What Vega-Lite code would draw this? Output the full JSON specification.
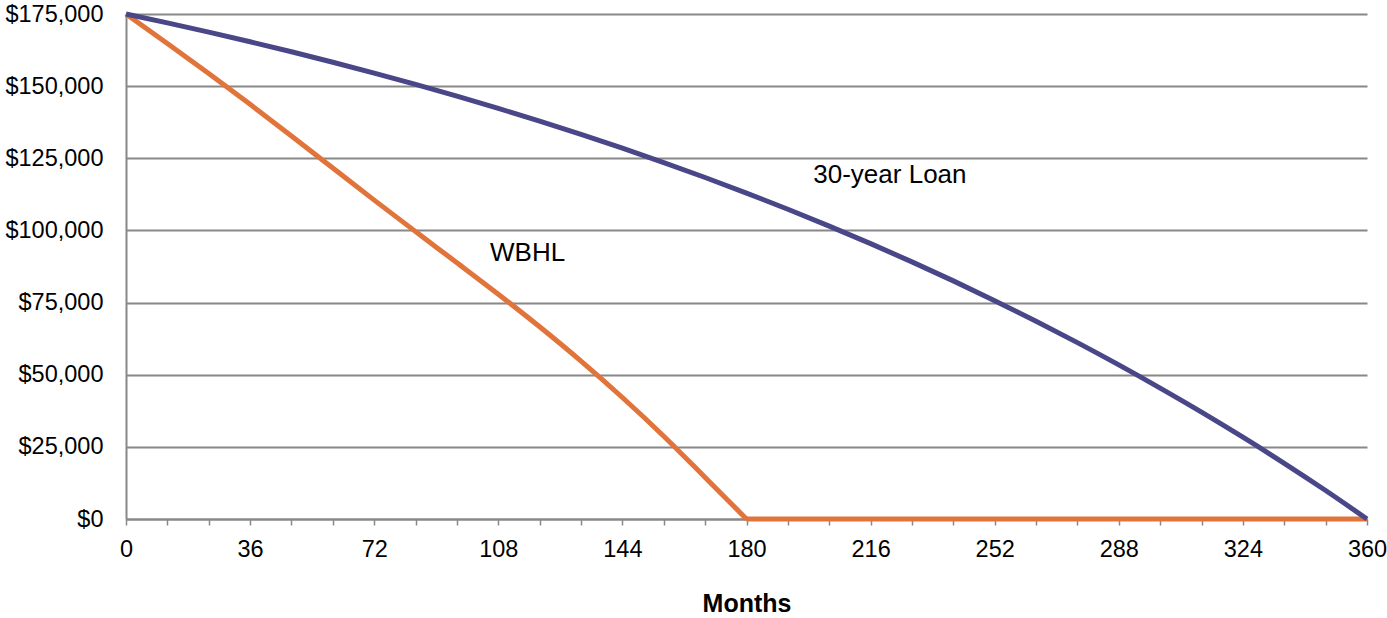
{
  "$schema": "https://vega.github.io/schema/vega-lite/v6.json",
  "autosize": "none",
  "width": 1241,
  "height": 505,
  "padding": {"left": 126, "top": 14, "right": 20, "bottom": 99},
  "background": "white",
  "config": {
    "view": {"stroke": null},
    "font": "Liberation Sans"
  },
  "datasets": {
    "loans": [
      {"month": 0, "balance": 175000, "series": "WBHL", "part": "paying"},
      {"month": 12, "balance": 164800, "series": "WBHL", "part": "paying"},
      {"month": 24, "balance": 154400, "series": "WBHL", "part": "paying"},
      {"month": 36, "balance": 143700, "series": "WBHL", "part": "paying"},
      {"month": 48, "balance": 132700, "series": "WBHL", "part": "paying"},
      {"month": 60, "balance": 121600, "series": "WBHL", "part": "paying"},
      {"month": 72, "balance": 110500, "series": "WBHL", "part": "paying"},
      {"month": 84, "balance": 99600, "series": "WBHL", "part": "paying"},
      {"month": 96, "balance": 88800, "series": "WBHL", "part": "paying"},
      {"month": 108, "balance": 77900, "series": "WBHL", "part": "paying"},
      {"month": 120, "balance": 66600, "series": "WBHL", "part": "paying"},
      {"month": 132, "balance": 54700, "series": "WBHL", "part": "paying"},
      {"month": 144, "balance": 42100, "series": "WBHL", "part": "paying"},
      {"month": 156, "balance": 28700, "series": "WBHL", "part": "paying"},
      {"month": 168, "balance": 14400, "series": "WBHL", "part": "paying"},
      {"month": 180, "balance": 0, "series": "WBHL", "part": "paying"},
      {"month": 180, "balance": 0, "series": "WBHL", "part": "paid"},
      {"month": 360, "balance": 0, "series": "WBHL", "part": "paid"},
      {"month": 0, "balance": 175000, "series": "30-year Loan", "part": "paying"},
      {"month": 12, "balance": 171920, "series": "30-year Loan", "part": "paying"},
      {"month": 24, "balance": 168710, "series": "30-year Loan", "part": "paying"},
      {"month": 36, "balance": 165370, "series": "30-year Loan", "part": "paying"},
      {"month": 48, "balance": 161900, "series": "30-year Loan", "part": "paying"},
      {"month": 60, "balance": 158280, "series": "30-year Loan", "part": "paying"},
      {"month": 72, "balance": 154520, "series": "30-year Loan", "part": "paying"},
      {"month": 84, "balance": 150600, "series": "30-year Loan", "part": "paying"},
      {"month": 96, "balance": 146530, "series": "30-year Loan", "part": "paying"},
      {"month": 108, "balance": 142290, "series": "30-year Loan", "part": "paying"},
      {"month": 120, "balance": 137870, "series": "30-year Loan", "part": "paying"},
      {"month": 132, "balance": 133280, "series": "30-year Loan", "part": "paying"},
      {"month": 144, "balance": 128500, "series": "30-year Loan", "part": "paying"},
      {"month": 156, "balance": 123520, "series": "30-year Loan", "part": "paying"},
      {"month": 168, "balance": 118340, "series": "30-year Loan", "part": "paying"},
      {"month": 180, "balance": 112950, "series": "30-year Loan", "part": "paying"},
      {"month": 192, "balance": 107340, "series": "30-year Loan", "part": "paying"},
      {"month": 204, "balance": 101500, "series": "30-year Loan", "part": "paying"},
      {"month": 216, "balance": 95420, "series": "30-year Loan", "part": "paying"},
      {"month": 228, "balance": 89100, "series": "30-year Loan", "part": "paying"},
      {"month": 240, "balance": 82520, "series": "30-year Loan", "part": "paying"},
      {"month": 252, "balance": 75670, "series": "30-year Loan", "part": "paying"},
      {"month": 264, "balance": 68540, "series": "30-year Loan", "part": "paying"},
      {"month": 276, "balance": 61120, "series": "30-year Loan", "part": "paying"},
      {"month": 288, "balance": 53400, "series": "30-year Loan", "part": "paying"},
      {"month": 300, "balance": 45360, "series": "30-year Loan", "part": "paying"},
      {"month": 312, "balance": 37030, "series": "30-year Loan", "part": "paying"},
      {"month": 324, "balance": 28330, "series": "30-year Loan", "part": "paying"},
      {"month": 336, "balance": 19290, "series": "30-year Loan", "part": "paying"},
      {"month": 348, "balance": 9860, "series": "30-year Loan", "part": "paying"},
      {"month": 360, "balance": 0, "series": "30-year Loan", "part": "paying"}
    ],
    "labels": [
      {"month": 221.6, "balance": 119200, "text": "30-year Loan"},
      {"month": 116.5, "balance": 92200, "text": "WBHL"}
    ]
  },
  "encoding": {
    "x": {
      "field": "month",
      "type": "quantitative",
      "scale": {"domain": [0, 360], "nice": false, "zero": false},
      "axis": {
        "title": "Months",
        "values": [0, 12, 24, 36, 48, 60, 72, 84, 96, 108, 120, 132, 144, 156, 168, 180, 192, 204, 216, 228, 240, 252, 264, 276, 288, 300, 312, 324, 336, 348, 360],
        "labelExpr": "datum.value % 36 == 0 ? datum.label : ''",
        "grid": false,
        "domainColor": "#888888",
        "domainWidth": 2,
        "tickColor": "#888888",
        "tickWidth": 1.5,
        "tickSize": 6,
        "labelFontSize": 23.5,
        "labelColor": "#000000",
        "labelPadding": 12,
        "labelFlush": false,
        "labelOverlap": false,
        "titleFontSize": 25,
        "titleFontWeight": "bold",
        "titleColor": "#000000",
        "titlePadding": 31
      }
    },
    "y": {
      "field": "balance",
      "type": "quantitative",
      "scale": {"domain": [0, 175000], "nice": false},
      "axis": {
        "title": null,
        "values": [0, 25000, 50000, 75000, 100000, 125000, 150000, 175000],
        "format": "$,.0f",
        "ticks": false,
        "tickSize": 0,
        "grid": true,
        "gridColor": "#888888",
        "gridWidth": 2,
        "domainColor": "#888888",
        "domainWidth": 2,
        "labelFontSize": 23.5,
        "labelColor": "#000000",
        "labelPadding": 23,
        "labelOverlap": false
      }
    }
  },
  "layer": [
    {
      "data": {"name": "loans"},
      "transform": [{"filter": "datum.series == 'WBHL'"}],
      "mark": {"type": "line", "color": "#e0743a", "strokeWidth": 5, "interpolate": "monotone"},
      "encoding": {"detail": {"field": "part"}}
    },
    {
      "data": {"name": "loans"},
      "transform": [{"filter": "datum.series == '30-year Loan'"}],
      "mark": {"type": "line", "color": "#4a4789", "strokeWidth": 5, "interpolate": "monotone"}
    },
    {
      "data": {"name": "labels"},
      "mark": {"type": "text", "fontSize": 26, "color": "#000000", "align": "center", "baseline": "middle"},
      "encoding": {"text": {"field": "text"}}
    }
  ]
}
